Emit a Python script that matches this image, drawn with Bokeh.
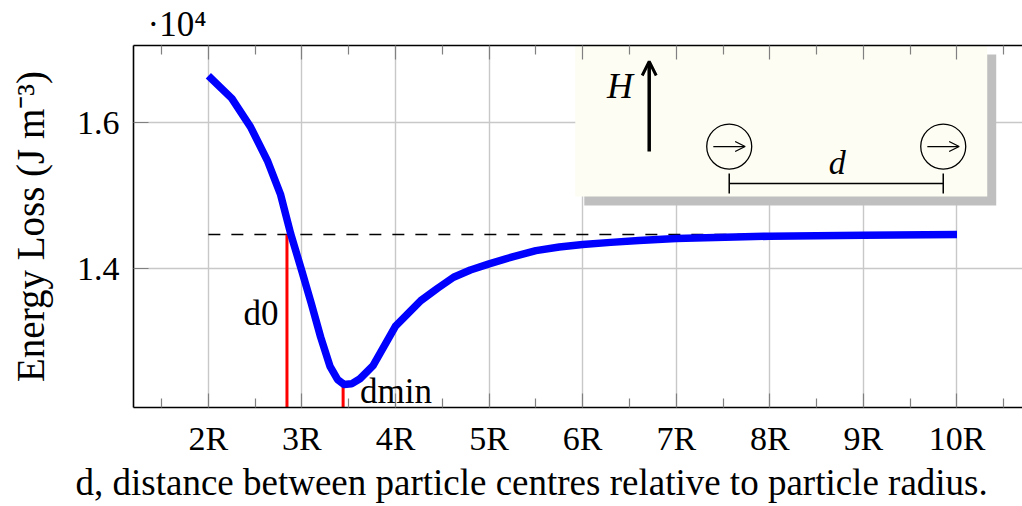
from bokeh.plotting import figure
from bokeh.models import (Range1d, FixedTicker, LinearAxis, Label, Arrow, OpenHead,
                          ColumnDataSource, Title)
from bokeh.embed import file_html
from bokeh.resources import INLINE

# ---------------- data ----------------
d_values = [2.0, 2.25, 2.45, 2.63, 2.77, 2.88, 3.0, 3.1, 3.2, 3.3, 3.38, 3.45, 3.53, 3.62,
            3.76, 4.0, 4.27, 4.45, 4.62, 4.8, 5.0, 5.25, 5.5, 5.75, 6.0, 6.3, 6.6, 7.0,
            8.0, 9.0, 10.0]
energy_loss = [1.664, 1.633, 1.594, 1.548, 1.502, 1.4475, 1.396, 1.352, 1.306, 1.266,
               1.248, 1.241, 1.242, 1.249, 1.267, 1.321, 1.356, 1.373, 1.388, 1.398,
               1.4064, 1.416, 1.4245, 1.4295, 1.4329, 1.4358, 1.4384, 1.441, 1.4443,
               1.4457, 1.4466]
reference_level = 1.4466
d0_value = 2.84
dmin_value = 3.44
dmin_loss = 1.239
x_tick_values = [2, 3, 4, 5, 6, 7, 8, 9, 10]
x_tick_labels = ["2R", "3R", "4R", "5R", "6R", "7R", "8R", "9R", "10R"]
x_minor_ticks = [1.5, 2.5, 3.5, 4.5, 5.5, 6.5, 7.5, 8.5, 9.5, 10.5]
y_tick_values = [1.4, 1.6]
y_tick_labels = ["1.4", "1.6"]
exponent_text = "\u00b710\u2074"
x_title = "d, distance between particle centres relative to particle radius."
y_title = "Energy Loss (J m\u207b\u00b3)"

SERIF = "Liberation Serif"
X0, X1 = 1.2, 10.70
Y0, Y1 = 1.2096, 1.7055

p = figure(width=1022, height=506, output_backend="svg", toolbar_location=None,
           x_range=Range1d(X0, X1), y_range=Range1d(Y0, Y1),
           min_border_left=133, min_border_right=0, min_border_top=45,
           min_border_bottom=99, x_axis_location=None, y_axis_location=None)
p.outline_line_color = None
p.background_fill_color = "white"
p.border_fill_color = "white"

p.title = Title(text=exponent_text, align="left", offset=14, text_font=SERIF,
                text_font_size="35px", text_font_style="normal", text_color="black",
                standoff=3)

xt = FixedTicker(ticks=x_tick_values, minor_ticks=x_minor_ticks)
yt = FixedTicker(ticks=y_tick_values, minor_ticks=[])

def style_axis(ax, labels=True):
    ax.axis_line_color = "black"
    ax.axis_line_width = 1.6
    ax.major_tick_line_color = "#808080"
    ax.minor_tick_line_color = "#808080"
    ax.major_tick_line_width = 1.2
    ax.minor_tick_line_width = 1.2
    ax.major_tick_out = 0
    ax.minor_tick_out = 0
    ax.major_label_text_font = SERIF
    ax.major_label_text_font_size = "34px" if labels else "0px"
    ax.major_label_text_color = "black"

xb = LinearAxis(ticker=xt, major_label_overrides=dict(zip(x_tick_values, x_tick_labels)))
style_axis(xb)
xb.major_tick_in = 14
xb.minor_tick_in = 9
xb.major_label_standoff = 12
p.add_layout(xb, "below")

p.add_layout(Title(text=x_title, align="left", offset=-58, text_font=SERIF,
                   text_font_size="37px", text_font_style="normal", text_color="black",
                   standoff=1), "below")

xa = LinearAxis(ticker=xt, major_label_overrides={v: "" for v in x_tick_values})
style_axis(xa, labels=False)
xa.major_tick_in = 14
xa.minor_tick_in = 9
xa.major_label_standoff = 0
p.add_layout(xa, "above")

yl = LinearAxis(ticker=yt, major_label_overrides=dict(zip(y_tick_values, y_tick_labels)),
                axis_label=y_title)
style_axis(yl)
yl.major_tick_in = 15
yl.minor_tick_in = 0
yl.major_label_standoff = 14
yl.axis_label_text_font = SERIF
yl.axis_label_text_font_style = "normal"
yl.axis_label_text_font_size = "39px"
yl.axis_label_text_color = "black"
yl.axis_label_standoff = 22
p.add_layout(yl, "left")

p.xgrid.ticker = xt
p.ygrid.ticker = yt
for g in (p.xgrid, p.ygrid):
    g.grid_line_color = "#c8c8c8"
    g.grid_line_width = 1.4

# ---------------- inset (schematic) ----------------
px_x = (X1 - X0) / 889.0   # data units per pixel
px_y = (Y1 - Y0) / 362.0
bx0, bx1, by0, by1 = 5.921, 10.323, 1.4986, Y1
p.quad(left=bx0 + 9 * px_x, right=bx1 + 9 * px_x, bottom=by0 - 9 * px_y, top=by1 - 9 * px_y,
       fill_color="#bfbfbf", line_color=None)
p.quad(left=bx0, right=bx1, bottom=by0, top=by1, fill_color="#fdfdf3", line_color=None)

p.add_layout(Arrow(end=OpenHead(size=14, line_width=3), x_start=6.711, y_start=1.5603,
                   x_end=6.711, y_end=1.6836, line_width=3.5, line_color="black"))
p.add_layout(Label(x=6.40, y=1.6507, text="H", text_font=SERIF, text_font_style="italic",
                   text_font_size="36px", text_color="black", text_align="center",
                   text_baseline="middle"))
cx = [7.566, 9.853]
cy = 1.5671
p.scatter(cx, [cy, cy], size=45, marker="circle", fill_color="#fdfdf3", line_color="black",
          line_width=1.3)
for c in cx:
    p.add_layout(Arrow(end=OpenHead(size=10, line_width=1.3), x_start=c - 0.17, y_start=cy,
                       x_end=c + 0.17, y_end=cy, line_width=1.3, line_color="black"))
yb = 1.5164
p.segment(x0=[cx[0], cx[0], cx[1]], y0=[yb, yb - 0.0137, yb - 0.0137],
          x1=[cx[1], cx[0], cx[1]], y1=[yb, yb + 0.0137, yb + 0.0137],
          line_color="black", line_width=1.5)
p.add_layout(Label(x=8.72, y=1.5452, text="d", text_font=SERIF, text_font_style="italic",
                   text_font_size="34px", text_color="black", text_align="center",
                   text_baseline="middle"))

# ---------------- main plot ----------------
p.line(x=[x_tick_values[0], x_tick_values[-1]], y=[reference_level, reference_level],
       line_color="black", line_width=1.5, line_dash="12 11")
p.segment(x0=[d0_value, dmin_value], y0=[Y0, Y0], x1=[d0_value, dmin_value],
          y1=[reference_level, dmin_loss], line_color="red", line_width=3)
src = ColumnDataSource(dict(d=d_values, e=energy_loss))
p.line("d", "e", source=src, line_color="blue", line_width=7.5, line_join="round")

p.add_layout(Label(x=d0_value - 0.09, y=1.338, text="d0", text_font=SERIF,
                   text_font_size="35px", text_color="black", text_align="right",
                   text_baseline="middle"))
p.add_layout(Label(x=dmin_value + 0.18, y=1.232, text="dmin", text_font=SERIF,
                   text_font_size="35px", text_color="black", text_align="left",
                   text_baseline="middle"))

open("out.html", "w").write(file_html(p, INLINE))
